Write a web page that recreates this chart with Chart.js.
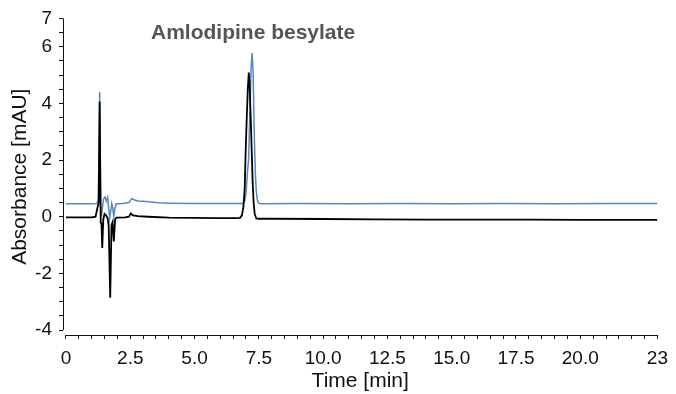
<!DOCTYPE html>
<html>
<head>
<meta charset="utf-8">
<script src="https://cdn.jsdelivr.net/npm/chart.js@4"></script>
<style>
  html, body { margin: 0; padding: 0; background: #fff; }
  canvas { display: block; }
</style>
</head>
<body>
<canvas id="grafico" width="676" height="394"></canvas>
<script>
const titulo = "Amlodipine besylate";

// Traza negra
const tiempoNegro = [0, 1.0, 1.15, 1.22, 1.27, 1.31, 1.35, 1.38, 1.41, 1.45, 1.5, 1.56, 1.62, 1.66, 1.72, 1.77, 1.81, 1.86, 1.91, 1.96,
  2.3, 2.45, 2.52, 2.6, 2.8, 3.2, 4.0, 5.0, 6.0, 6.6, 6.77, 6.84, 6.9, 6.95, 6.99, 7.03, 7.07, 7.11, 7.14, 7.18, 7.22, 7.26, 7.3, 7.34, 7.4,
  7.5, 8.0, 10, 12, 14, 16, 18, 20, 22, 23];
const valoresNegro = [-0.02, -0.02, 0.0, 0.3, 0.5, 4.07, -0.2, -0.25, -1.1, -0.1, 0.1, 0.05, -0.05, -0.3, -2.86, -0.3, -0.2, -0.87, -0.1, -0.03,
  -0.02, 0.0, 0.12, 0.05, 0.02, 0.0, -0.03, -0.04, -0.05, -0.05, -0.04, 0.05, 0.35, 1.0, 2.4, 3.5, 4.5, 5.09, 4.7, 3.6, 2.4, 1.2, 0.45, 0.1, -0.06,
  -0.07, -0.07, -0.08, -0.09, -0.1, -0.1, -0.1, -0.11, -0.11, -0.11];

// Traza azul
const tiempoAzul = [0, 1.0, 1.2, 1.26, 1.31, 1.35, 1.38, 1.42, 1.46, 1.52, 1.57, 1.62, 1.66, 1.7, 1.74, 1.78, 1.82, 1.86, 1.9, 1.96,
  2.2, 2.45, 2.55, 2.65, 2.8, 3.0, 3.3, 3.6, 4.0, 5.0, 6.0, 6.87, 6.94, 7.0, 7.05, 7.1, 7.15, 7.2, 7.24, 7.28, 7.32, 7.36, 7.4, 7.44, 7.49,
  7.6, 9, 11, 13, 15, 17, 19, 21, 23];
const valoresAzul = [0.46, 0.46, 0.47, 0.6, 4.41, 0.3, 0.0, 0.35, 0.62, 0.7, 0.55, 0.68, 0.3, -0.05, 0.2, 0.46, 0.3, 0.0, 0.3, 0.46,
  0.47, 0.5, 0.64, 0.6, 0.56, 0.55, 0.52, 0.49, 0.48, 0.47, 0.47, 0.47, 0.5, 0.8, 1.5, 2.0, 3.6, 5.3, 5.78, 5.0, 3.0, 1.6, 0.9, 0.6, 0.48,
  0.46, 0.47, 0.46, 0.47, 0.46, 0.47, 0.46, 0.47, 0.47];

// Ejes
const ticksX = [0, 2.5, 5.0, 7.5, 10.0, 12.5, 15.0, 17.5, 20.0, 23];
const etiquetasX = ["0", "2.5", "5.0", "7.5", "10.0", "12.5", "15.0", "17.5", "20.0", "23"];
const ticksY = [-4, -2, 0, 2, 4, 6, 7];
const pasoMenor = 0.5;

function ticksMenores(desde, hasta) {
  const lista = [];
  for (let v = desde; v <= hasta + 1e-9; v += pasoMenor) lista.push({ value: Math.round(v * 100) / 100 });
  return lista;
}

Chart.defaults.font.family = "'Liberation Sans', Arial, sans-serif";
Chart.defaults.color = "#111";

// Plugin para titulo interior y lineas de eje separadas
const extras = {
  id: "extras",
  afterDraw(chart) {
    const ctx = chart.ctx;
    const sx = chart.scales.x, sy = chart.scales.y;
    const area = chart.chartArea;
    ctx.save();
    ctx.strokeStyle = "#111";
    ctx.lineWidth = 1;
    ctx.beginPath();
    ctx.moveTo(area.left + 0.5, sy.getPixelForValue(ticksY[ticksY.length - 1]));
    ctx.lineTo(area.left + 0.5, sy.getPixelForValue(ticksY[0]));
    ctx.moveTo(sx.getPixelForValue(ticksX[0]), area.bottom + 0.5);
    ctx.lineTo(sx.getPixelForValue(ticksX[ticksX.length - 1]), area.bottom + 0.5);
    ctx.stroke();

    ctx.fillStyle = "#555";
    ctx.font = "bold 21px 'Liberation Sans', Arial, sans-serif";
    ctx.textBaseline = "alphabetic";
    ctx.fillText(titulo, area.left + 88, area.top + 21);
    ctx.restore();
  }
};

const ctx = document.getElementById("grafico").getContext("2d");
new Chart(ctx, {
  type: "line",
  data: {
    datasets: [{
      label: "negro",
      data: tiempoNegro.map((t, i) => ({ x: t, y: valoresNegro[i] })),
      borderColor: "#000",
      borderWidth: 1.8,
      pointRadius: 0,
      tension: 0
    }, {
      label: "azul",
      data: tiempoAzul.map((t, i) => ({ x: t, y: valoresAzul[i] })),
      borderColor: "#5587c0",
      borderWidth: 1.5,
      pointRadius: 0,
      tension: 0
    }]
  },
  options: {
    responsive: false,
    animation: false,
    layout: { padding: { top: 14, right: 13, bottom: 0, left: 0 } },
    plugins: { legend: { display: false }, tooltip: { enabled: false } },
    scales: {
      x: {
        type: "linear",
        min: -0.116,
        max: 23,
        afterFit: s => { s.height = 59; },
        afterBuildTicks: s => { s.ticks = ticksMenores(0, 23); },
        border: { display: false },
        grid: { drawOnChartArea: false, drawTicks: true, tickLength: 4, color: "#111" },
        ticks: {
          autoSkip: false, maxRotation: 0, padding: 8,
          font: { size: 19 },
          callback: v => { const k = ticksX.indexOf(v); return k >= 0 ? etiquetasX[k] : ""; }
        },
        title: { display: true, text: "Time [min]", font: { size: 21 }, padding: { top: 0, bottom: 0 } }
      },
      y: {
        min: -4.173,
        max: 7,
        afterFit: s => { s.width = 63; },
        afterBuildTicks: s => { s.ticks = ticksMenores(-4, 7); },
        border: { display: false },
        grid: { drawOnChartArea: false, drawTicks: true, tickLength: 4, color: "#111" },
        ticks: {
          autoSkip: false, padding: 7,
          font: { size: 19 },
          callback: v => ticksY.includes(v) ? String(v) : ""
        },
        title: { display: true, text: "Absorbance [mAU]", font: { size: 21 }, padding: { top: 8, bottom: 0 } }
      }
    }
  },
  plugins: [extras]
});
</script>
</body>
</html>
